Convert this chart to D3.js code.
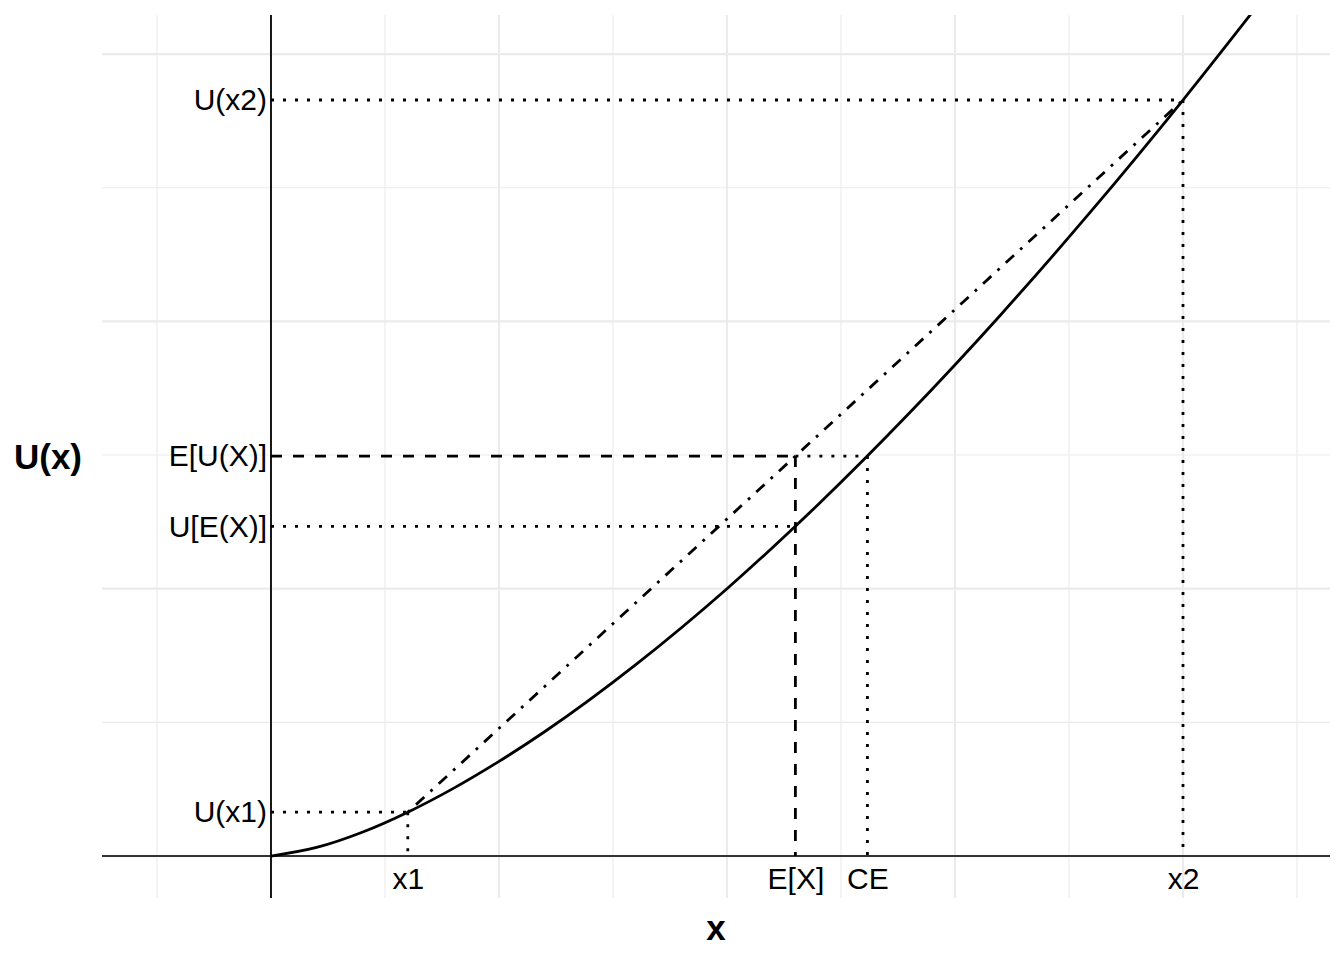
<!DOCTYPE html>
<html>
<head>
<meta charset="utf-8">
<script src="https://cdn.jsdelivr.net/npm/d3@7"></script>
<style>
    body { margin: 0; background: #fff; }
    svg { font-family: "Liberation Sans", Arial, Helvetica, sans-serif; }
    .axis text { fill: #000; font-size: 30px; }
    .axis .domain { display: none; }
</style>
</head>
<body>
<svg width="1344" height="960"></svg>
<script>
// utility curve
var curve_x = [0, 0.1, 0.2, 0.3, 0.4, 0.5, 0.6, 0.8, 1.0, 1.2, 1.4, 1.6, 1.8, 2.0, 2.15]
var curve_u = [0, 0.032, 0.089, 0.164, 0.253, 0.354, 0.465, 0.716, 1.0, 1.315, 1.657, 2.024, 2.415, 2.828, 3.152]

var x_tick_labels = ["x1", "E[X]", "CE", "x2"]
var x_tick_values = [0.3, 1.15, 1.308, 2.0]
var y_tick_labels = ["U(x1)", "U[E(X)]", "E[U(X)]", "U(x2)"]
var y_tick_values = [0.164, 1.233, 1.496, 2.828]

var x_major = [0, 0.5, 1, 1.5, 2]
var x_minor = [-0.25, 0.25, 0.75, 1.25, 1.75, 2.25]
var y_major = [0, 1, 2, 3]
var y_minor = [0.5, 1.5, 2.5]

function setup_svg() {
    var svg = d3.select("svg"), margin = {
        top: 15, right: 14,
        bottom: 62, left: 102
    },
        width = svg.attr("width") - margin.left - margin.right,
        height = svg.attr("height") - margin.top - margin.bottom,
        g = svg.append("g").attr("transform", "translate(" + margin.left + "," + margin.top + ")");
    return { width, height, g, svg, margin };
}

function draw_grid(g, x_scale, y_scale, width, height) {
    g.selectAll(".xminor").data(x_minor).enter().append("line")
        .attr("x1", x_scale).attr("x2", x_scale)
        .attr("y1", 0).attr("y2", height)
        .attr("stroke", "#ebebeb").attr("stroke-width", 1.1)
    g.selectAll(".yminor").data(y_minor).enter().append("line")
        .attr("y1", y_scale).attr("y2", y_scale)
        .attr("x1", 0).attr("x2", width)
        .attr("stroke", "#ebebeb").attr("stroke-width", 1.1)
    g.selectAll(".xmajor").data(x_major).enter().append("line")
        .attr("x1", x_scale).attr("x2", x_scale)
        .attr("y1", 0).attr("y2", height)
        .attr("stroke", "#ebebeb").attr("stroke-width", 2.2)
    g.selectAll(".ymajor").data(y_major).enter().append("line")
        .attr("y1", y_scale).attr("y2", y_scale)
        .attr("x1", 0).attr("x2", width)
        .attr("stroke", "#ebebeb").attr("stroke-width", 2.2)
}

function seg(g, x_scale, y_scale, xa, ya, xb, yb, dash) {
    g.append("line")
        .attr("x1", x_scale(xa)).attr("y1", y_scale(ya))
        .attr("x2", x_scale(xb)).attr("y2", y_scale(yb))
        .attr("stroke", "#000")
        .attr("stroke-width", 2.8)
        .attr("stroke-dasharray", dash)
}

function display_chart() {
    var { width, height, g, svg, margin } = setup_svg();

    var x_scale = d3.scaleLinear().domain([-0.3706, 2.3224]).range([0, width])
    var y_scale = d3.scaleLinear().domain([-0.157, 3.146]).range([height, 0])

    draw_grid(g, x_scale, y_scale, width, height)

    // zero lines
    g.append("line")
        .attr("x1", 0).attr("x2", width)
        .attr("y1", y_scale(0)).attr("y2", y_scale(0))
        .attr("stroke", "#333").attr("stroke-width", 2)
    g.append("line")
        .attr("x1", x_scale(0)).attr("x2", x_scale(0))
        .attr("y1", 0).attr("y2", height)
        .attr("stroke", "#000").attr("stroke-width", 1.8)

    var dotted = "3,9", dashed = "11,11", dotdash = "2.8,8.4,11.2,8.4"
    var x1 = x_tick_values[0], ex = x_tick_values[1], ce = x_tick_values[2], x2 = x_tick_values[3]
    var ux1 = y_tick_values[0], uex = y_tick_values[1], eu = y_tick_values[2], ux2 = y_tick_values[3]

    seg(g, x_scale, y_scale, 0, ux1, x1, ux1, dotted)
    seg(g, x_scale, y_scale, x1, ux1, x1, 0, dotted)
    seg(g, x_scale, y_scale, 0, ux2, x2, ux2, dotted)
    seg(g, x_scale, y_scale, x2, ux2, x2, 0, dotted)
    seg(g, x_scale, y_scale, 0, uex, ex, uex, dotted)
    seg(g, x_scale, y_scale, 0, eu, ex, eu, dashed)
    seg(g, x_scale, y_scale, ex, eu, ex, 0, dashed)
    seg(g, x_scale, y_scale, ex, eu, ce, eu, dotted)
    seg(g, x_scale, y_scale, ce, eu, ce, 0, dotted)
    seg(g, x_scale, y_scale, x1, ux1, x2, ux2, dotdash)

    svg.append("clipPath").attr("id", "panel")
        .append("rect").attr("width", width).attr("height", height)

    var line = d3.line()
        .x(function (d, i) { return x_scale(curve_x[i]); })
        .y(function (d) { return y_scale(d); })
        .curve(d3.curveMonotoneX)

    g.append("path")
        .datum(curve_u)
        .attr("clip-path", "url(#panel)")
        .attr("fill", "none")
        .attr("stroke", "#000")
        .attr("stroke-width", 2.8)
        .attr("d", line)

    g.append("g")
        .attr("class", "axis")
        .attr("transform", "translate(0," + y_scale(0) + ")")
        .call(d3.axisBottom(x_scale).tickValues(x_tick_values).tickSize(0).tickPadding(12)
            .tickFormat(function (d, i) { return x_tick_labels[i]; }))

    g.append("g")
        .attr("class", "axis")
        .attr("transform", "translate(" + x_scale(0) + ",0)")
        .call(d3.axisLeft(y_scale).tickValues(y_tick_values).tickSize(0).tickPadding(4)
            .tickFormat(function (d, i) { return y_tick_labels[i]; }))

    g.selectAll(".axis text").attr("font-family", null).attr("font-size", null)

    svg.append("text")
        .attr("x", margin.left + width / 2)
        .attr("y", 940)
        .attr("text-anchor", "middle")
        .attr("font-size", "35px")
        .attr("font-weight", "bold")
        .text("x")

    svg.append("text")
        .attr("x", 48)
        .attr("y", margin.top + height / 2)
        .attr("dy", "0.35em")
        .attr("text-anchor", "middle")
        .attr("font-size", "35px")
        .attr("font-weight", "bold")
        .text("U(x)")
}

display_chart()
</script>
</body>
</html>
